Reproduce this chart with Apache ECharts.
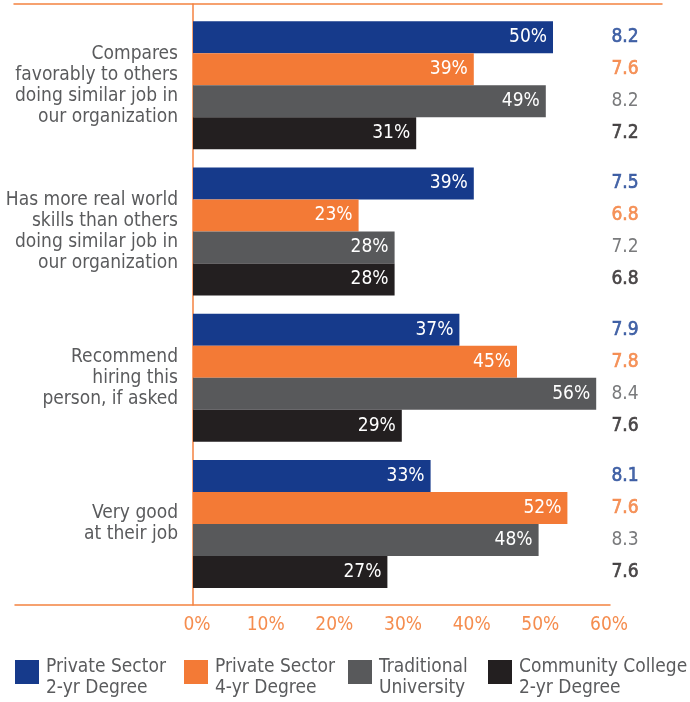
<!DOCTYPE html>
<html>
<head>
<meta charset="utf-8">
<script src="https://cdn.jsdelivr.net/npm/echarts@6/dist/echarts.min.js"></script>
<style>
  html, body { margin: 0; padding: 0; background: #ffffff; }
  #chart { width: 690px; height: 702px; }
</style>
</head>
<body>
<div id="chart"></div>
<script>
// Survey questions (top to bottom)
const categories = [
  'Compares\nfavorably to others\ndoing similar job in\nour organization',
  'Has more real world\nskills than others\ndoing similar job in\nour organization',
  'Recommend\nhiring this\nperson, if asked',
  'Very good\nat their job'
];

const seriesNames = [
  'Private Sector 2-yr Degree',
  'Private Sector 4-yr Degree',
  'Traditional University',
  'Community College 2-yr Degree'
];
const legendLabels = [
  'Private Sector\n2-yr Degree',
  'Private Sector\n4-yr Degree',
  'Traditional\nUniversity',
  'Community College\n2-yr Degree'
];

// Share of respondents (%)
const privateTwoYear = [50, 39, 37, 33];
const privateFourYear = [39, 23, 45, 52];
const traditionalUniv = [49, 28, 56, 48];
const communityCollege = [31, 28, 29, 27];

// Average ratings shown in the right-hand column
const scorePrivateTwoYear = [8.2, 7.5, 7.9, 8.1];
const scorePrivateFourYear = [7.6, 6.8, 7.8, 7.6];
const scoreTraditionalUniv = [8.2, 7.2, 8.4, 8.3];
const scoreCommunityCollege = [7.2, 6.8, 7.6, 7.6];

const axisMax = 60;
const axisStep = 10;

const FONT = "'Liberation Sans Narrow', 'DejaVu Sans Condensed', 'Roboto', sans-serif";
const colors = ['#163a8b', '#f37a36', '#58595b', '#231f20'];
const scoreColors = ['#1a4193', '#f37a36', '#58595b', '#231f20'];
const scoreStroke = [0.6, 0.6, 0, 0.6];
const ORANGE_LINE = '#f48240';
const ORANGE_TEXT = '#f58d4f';
const TEXT_GRAY = '#5a5b5d';

const values = [privateTwoYear, privateFourYear, traditionalUniv, communityCollege];
const scores = [scorePrivateTwoYear, scorePrivateFourYear, scoreTraditionalUniv, scoreCommunityCollege];
const scoreOffsets = [-48, -16, 16, 48];

// legend swatch: 24x24 square sitting at the top of a 24x36 box
const SWATCH = 'path://M0,0L24,0L24,24L0,24Z M0,36L24,36';

const chart = echarts.init(document.getElementById('chart'), null, { renderer: 'canvas' });

const hiddenValueAxis = (gridIndex) => ({
  type: 'value', gridIndex: gridIndex, min: 0, max: 1, show: false
});
const lineStyle = { color: ORANGE_LINE, width: 1.5 };

const barSeries = seriesNames.map((name, i) => ({
  name: name,
  type: 'bar',
  xAxisIndex: 0,
  yAxisIndex: 0,
  barWidth: 32,
  barGap: '0%',
  data: values[i],
  itemStyle: { color: colors[i] },
  label: {
    show: true,
    position: 'insideRight',
    distance: 6,
    formatter: '{c}%',
    color: '#ffffff',
    fontFamily: FONT,
    fontSize: 19
  },
  emphasis: { disabled: true },
  animation: false
}));

const scoreSeries = scores.map((arr, i) => ({
  name: 'score-' + i,
  type: 'scatter',
  xAxisIndex: 0,
  yAxisIndex: 0,
  symbolSize: 1,
  itemStyle: { color: 'transparent' },
  data: arr.map((s, k) => ({ value: [axisMax, categories[k]], score: s })),
  label: {
    show: true,
    position: 'inside',
    offset: [0, scoreOffsets[i]],
    formatter: (p) => p.data.score.toFixed(1),
    color: scoreColors[i],
    textBorderColor: scoreColors[i],
    textBorderWidth: scoreStroke[i],
    fontFamily: FONT,
    fontSize: 19
  },
  emphasis: { disabled: true },
  clip: false,
  animation: false,
  silent: true
}));

const legends = seriesNames.map((name, i) => ({
  data: [{ name: name, icon: SWATCH }],
  left: [15, 184, 348, 488][i],
  top: 657,
  padding: 0,
  itemWidth: 24,
  itemHeight: 36,
  itemGap: 0,
  selectedMode: false,
  formatter: (n) => legendLabels[seriesNames.indexOf(n)],
  textStyle: {
    fontFamily: FONT,
    fontSize: 19,
    lineHeight: 21,
    color: TEXT_GRAY,
    padding: [0, 0, 0, 2]
  }
}));

chart.setOption({
  backgroundColor: '#ffffff',
  animation: false,
  grid: [
    // bars
    { left: 193, top: 12, width: 432, height: 585 },
    // tick label strip
    { left: 197, top: 4, width: 412, height: 601 },
    // top rule
    { left: 14, top: 4, width: 648, height: 601 },
    // bottom rule
    { left: 15, top: 4, width: 595, height: 601 },
    // vertical baseline at 0%
    { left: 193, top: 4, width: 432, height: 601 }
  ],
  xAxis: [
    { type: 'value', gridIndex: 0, min: 0, max: axisMax, interval: axisStep, show: false },
    {
      type: 'value', gridIndex: 1, min: 0, max: axisMax, interval: axisStep,
      axisLine: { show: false }, axisTick: { show: false }, splitLine: { show: false },
      axisLabel: { formatter: '{value}%', color: ORANGE_TEXT, fontFamily: FONT, fontSize: 19, margin: 11 }
    },
    {
      type: 'value', gridIndex: 2, min: 0, max: 1, position: 'top',
      axisLine: { show: true, onZero: false, lineStyle: lineStyle }, axisTick: { show: false },
      axisLabel: { show: false }, splitLine: { show: false }
    },
    {
      type: 'value', gridIndex: 3, min: 0, max: 1, position: 'bottom',
      axisLine: { show: true, onZero: false, lineStyle: lineStyle }, axisTick: { show: false },
      axisLabel: { show: false }, splitLine: { show: false }
    },
    hiddenValueAxis(4)
  ],
  yAxis: [
    {
      type: 'category', gridIndex: 0, data: categories, inverse: true,
      axisLine: { show: false }, axisTick: { show: false },
      axisLabel: {
        color: TEXT_GRAY, fontFamily: FONT, fontSize: 19, lineHeight: 21,
        margin: 15, align: 'right'
      }
    },
    hiddenValueAxis(1),
    hiddenValueAxis(2),
    hiddenValueAxis(3),
    {
      type: 'value', gridIndex: 4, min: 0, max: 1,
      axisLine: { show: true, onZero: false, lineStyle: lineStyle },
      axisTick: { show: false }, axisLabel: { show: false }, splitLine: { show: false }
    }
  ],
  legend: legends,
  series: barSeries.concat(scoreSeries)
});
</script>
</body>
</html>
